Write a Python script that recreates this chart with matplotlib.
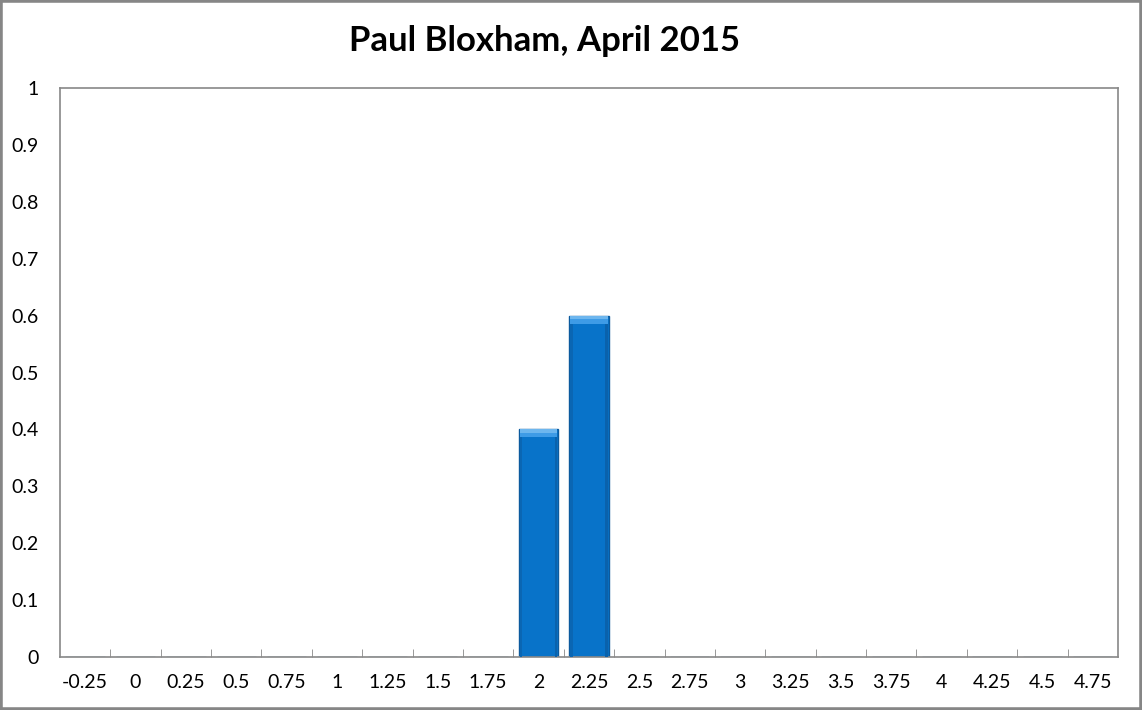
import numpy as np
import matplotlib.pyplot as plt
from matplotlib.patches import Rectangle

# histogram bins and shares
bins = ["-0.25", "0", "0.25", "0.5", "0.75", "1", "1.25", "1.5", "1.75", "2",
        "2.25", "2.5", "2.75", "3", "3.25", "3.5", "3.75", "4", "4.25", "4.5", "4.75"]
share = [0, 0, 0, 0, 0, 0, 0, 0, 0, 0.4,
         0.6, 0, 0, 0, 0, 0, 0, 0, 0, 0, 0]
yticks = [0, 0.1, 0.2, 0.3, 0.4, 0.5, 0.6, 0.7, 0.8, 0.9, 1]
ylabels = ["0", "0.1", "0.2", "0.3", "0.4", "0.5", "0.6", "0.7", "0.8", "0.9", "1"]

plt.rcParams['font.family'] = ['Lato', 'DejaVu Sans']

fig = plt.figure(figsize=(11.42, 7.10), dpi=100)
ax = fig.add_axes([0.0525, 0.0746, 0.9265, 0.8014])

x = np.arange(len(bins))
w = 0.78
ax.bar(x, share, width=w, color="#0873C9", edgecolor="#0B5A9E", linewidth=1.0, zorder=2)
# bevel highlight at the top of each bar
cap = 0.014
for xi, v in zip(x, share):
    if v > 0:
        ax.bar(xi, cap, bottom=v - cap, width=w - 0.04, color="#3E9BE6",
               linewidth=0, zorder=3)
        ax.bar(xi, cap * 0.4, bottom=v - cap * 0.4, width=w - 0.04, color="#6DB6EE",
               linewidth=0, zorder=3)
        ax.bar(xi - w / 2 + 0.02, v - cap, width=0.05, align="edge",
               color="#0A66B3", linewidth=0, zorder=3)
        ax.bar(xi + w / 2 - 0.07, v - cap, width=0.05, align="edge",
               color="#0A62AC", linewidth=0, zorder=3)

ax.set_xlim(-0.5, len(bins) - 0.5)
ax.set_ylim(0, 1)
ax.set_xticks(x)
ax.set_xticklabels(bins, fontsize=14)
ax.set_xticks(x[:-1] + 0.5, minor=True)
ax.tick_params(axis="x", which="major", length=0, pad=12)
ax.tick_params(axis="x", which="minor", length=6, direction="in", color="#888888")
ax.set_yticks(yticks)
ax.set_yticklabels(ylabels, fontsize=14)
ax.tick_params(axis="y", length=0, pad=15)
for s in ax.spines.values():
    s.set_color("#888888")
    s.set_linewidth(1.2)

fig.suptitle("Paul Bloxham, April 2015", x=0.477, y=0.965, fontsize=25, fontweight="bold")

fig.patches.append(Rectangle((0, 0), 1, 1, transform=fig.transFigure, fill=False,
                             edgecolor="#868686", linewidth=4))

fig.savefig("out.png", dpi=100)
